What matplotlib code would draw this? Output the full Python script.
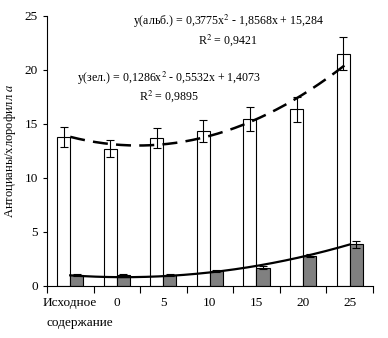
import numpy as np
import matplotlib.pyplot as plt

plt.rcParams['font.family'] = ['Liberation Serif', 'DejaVu Serif']
plt.rcParams['mathtext.fontset'] = 'stix'

categories = ["Исходное", "0", "5", "10", "15", "20", "25"]
albino = [13.8, 12.7, 13.7, 14.35, 15.45, 16.35, 21.5]
albino_err = [0.9, 0.8, 0.9, 1.0, 1.1, 1.15, 1.5]
green = [1.0, 1.0, 1.0, 1.4, 1.7, 2.8, 3.85]
green_err = [0.08, 0.08, 0.08, 0.08, 0.15, 0.15, 0.3]
# trendline coefficients as printed on the chart
albino_fit = [0.3775, -1.8568, 15.284]
green_fit = [0.1286, -0.5532, 1.4073]

x = np.arange(1, len(categories) + 1)
w = 0.28

fig = plt.figure(figsize=(3.88, 3.38), dpi=100)
ax = fig.add_axes([0.121, 0.154, 0.84, 0.799])

ax.bar(x - w / 2, albino, w, color="white", edgecolor="black", linewidth=0.8,
       yerr=albino_err, capsize=3, error_kw=dict(elinewidth=0.8, capthick=0.8))
ax.bar(x + w / 2, green, w, color="#808080", edgecolor="black", linewidth=0.8,
       yerr=green_err, capsize=3, error_kw=dict(elinewidth=0.8, capthick=0.8))

xs = np.linspace(1, 7, 200)
ax.plot(xs, np.polyval(albino_fit, xs), color="black", lw=1.8, dashes=(6, 3.3))
ax.plot(xs, np.polyval(green_fit, xs), color="black", lw=1.6)

ax.set_xlim(0.5, 7.5)
ax.set_ylim(0, 25)
ax.set_yticks([0, 5, 10, 15, 20, 25])
ax.set_xticks(x)
ax.set_xticklabels(categories, fontsize=9.5)
ax.text(1.2, -2.9, "содержание", ha="center", va="top", fontsize=9.5)
ax.set_xticks(np.arange(0.5, 8, 1), minor=True)
ax.tick_params(axis="x", which="major", length=0, pad=8)
ax.tick_params(axis="x", which="minor", length=5, width=0.8, direction="out")
ax.tick_params(axis="y", length=3, width=0.8, labelsize=9.5)
for s in ["top", "right"]:
    ax.spines[s].set_visible(False)
for s in ["left", "bottom"]:
    ax.spines[s].set_linewidth(0.8)

ax.set_ylabel("Антоцианы/хлорофилл $\\mathit{a}$", fontsize=9, labelpad=5)

fs = 8.6
fig.text(0.588, 0.925, "y(альб.) = 0,3775x$^2$ - 1,8568x + 15,284", ha="center", fontsize=fs)
fig.text(0.588, 0.872, "R$^2$ = 0,9421", ha="center", fontsize=fs)
fig.text(0.435, 0.757, "y(зел.) = 0,1286x$^2$ - 0,5532x + 1,4073", ha="center", fontsize=fs)
fig.text(0.435, 0.705, "R$^2$ = 0,9895", ha="center", fontsize=fs)

fig.savefig("out.png", dpi=100)
